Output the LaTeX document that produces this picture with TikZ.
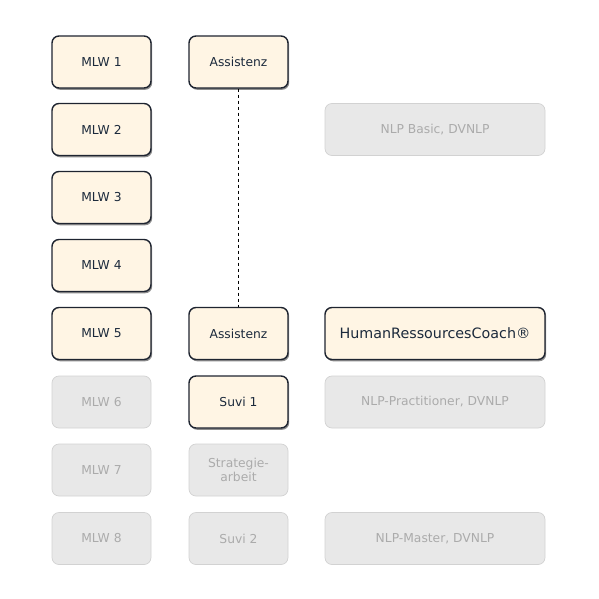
\documentclass[tikz,border=0pt]{standalone}
\usepackage{fontspec}
\setmainfont{DejaVu Sans}
\usetikzlibrary{shadows}
\definecolor{activefill}{HTML}{FFF5E4}
\definecolor{activedraw}{HTML}{1E2430}
\definecolor{activetext}{HTML}{1C2A3C}
\definecolor{passivefill}{HTML}{E8E8E8}
\definecolor{passivedraw}{HTML}{D2D2D2}
\definecolor{passivetext}{HTML}{ABABAB}
\begin{document}
\begin{tikzpicture}[x=1pt,y=-1pt,
  boxbase/.style={rounded corners=7pt, minimum height=52pt, align=center, inner sep=2pt, font=\fontsize{12.3pt}{14.5pt}\selectfont},
  active/.style={boxbase, fill=activefill, draw=activedraw, line width=1.4pt, text=activetext,
    drop shadow={shadow xshift=1.2pt, shadow yshift=-1.8pt, opacity=0.45, fill=black}},
  passive/.style={boxbase, fill=passivefill, draw=passivedraw, line width=0.7pt, text=passivetext},
  narrow/.style={minimum width=99pt},
  wide/.style={minimum width=220pt},
  link/.style={line width=1.5pt, draw=black, dash pattern=on 3.5pt off 2.5pt}
]
\useasboundingbox (0,0) rectangle (599,599);
% column 1
\node[active,narrow] (m1) at (101.5,62) {MLW 1};
\node[active,narrow] (m2) at (101.5,129.5) {MLW 2};
\node[active,narrow] (m3) at (101.5,197.5) {MLW 3};
\node[active,narrow] (m4) at (101.5,265.5) {MLW 4};
\node[active,narrow] (m5) at (101.5,333.5) {MLW 5};
\node[passive,narrow] (m6) at (101.5,402) {MLW 6};
\node[passive,narrow] (m7) at (101.5,470) {MLW 7};
\node[passive,narrow] (m8) at (101.5,538.5) {MLW 8};
% column 2
\node[active,narrow] (a1) at (238.5,62) {Assistenz};
\node[active,narrow] (a2) at (238.5,333.5) {Assistenz};
\node[active,narrow] (s1) at (238.5,402) {Suvi 1};
\node[passive,narrow] (st) at (238.5,470) {Strategie-\\arbeit};
\node[passive,narrow] (s2) at (238.5,538.5) {Suvi 2};
% column 3
\node[passive,wide] (nb) at (435,129.5) {NLP Basic, DVNLP};
\node[active,wide,font=\fontsize{14.3pt}{17pt}\selectfont] (hr) at (435,333.5) {HumanRessourcesCoach®};
\node[passive,wide] (np) at (435,402) {NLP-Practitioner, DVNLP};
\node[passive,wide] (nm) at (435,538.5) {NLP-Master, DVNLP};
% connector
\draw[link] (a1.south) -- (a2.north);
\end{tikzpicture}
\end{document}
